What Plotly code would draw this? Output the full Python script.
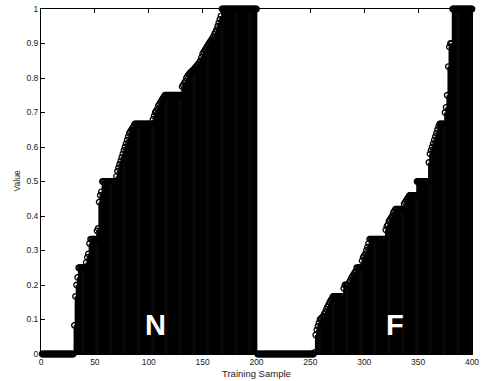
import plotly.graph_objects as go

# Sample indices
samples = list(range(1, 401))

# Values for samples 1..200 (class N)
values_n = [
    0, 0, 0, 0, 0, 0, 0, 0, 0, 0,
    0, 0, 0, 0, 0, 0, 0, 0, 0, 0,
    0, 0, 0, 0, 0, 0, 0, 0, 0, 0,
    0.083, 0.167, 0.2, 0.222, 0.25, 0.25, 0.25, 0.25, 0.25, 0.25,
    0.25, 0.265, 0.28, 0.29, 0.32, 0.333, 0.333, 0.333, 0.333, 0.333,
    0.333, 0.357, 0.364, 0.44, 0.46, 0.47, 0.5, 0.5, 0.5, 0.5,
    0.5, 0.5, 0.5, 0.5, 0.5, 0.5, 0.5, 0.5, 0.5, 0.515,
    0.53, 0.54, 0.55, 0.56, 0.57, 0.58, 0.59, 0.6, 0.61, 0.62,
    0.63, 0.64, 0.645, 0.65, 0.655, 0.66, 0.667, 0.667, 0.667, 0.667,
    0.667, 0.667, 0.667, 0.667, 0.667, 0.667, 0.667, 0.667, 0.667, 0.667,
    0.667, 0.667, 0.667, 0.68, 0.69, 0.7, 0.705, 0.71, 0.72, 0.725,
    0.73, 0.735, 0.74, 0.745, 0.75, 0.75, 0.75, 0.75, 0.75, 0.75,
    0.75, 0.75, 0.75, 0.75, 0.75, 0.75, 0.75, 0.75, 0.75, 0.75,
    0.775, 0.78, 0.785, 0.79, 0.8, 0.805, 0.81, 0.813, 0.817, 0.82,
    0.823, 0.826, 0.83, 0.833, 0.837, 0.84, 0.845, 0.85, 0.86, 0.87,
    0.875, 0.88, 0.885, 0.89, 0.895, 0.9, 0.905, 0.91, 0.915, 0.92,
    0.927, 0.933, 0.94, 0.95, 0.96, 0.97, 0.98, 1, 1, 1,
    1, 1, 1, 1, 1, 1, 1, 1, 1, 1,
    1, 1, 1, 1, 1, 1, 1, 1, 1, 1,
    1, 1, 1, 1, 1, 1, 1, 1, 1, 1,
]

# Values for samples 201..400 (class F)
values_f = [
    0, 0, 0, 0, 0, 0, 0, 0, 0, 0,
    0, 0, 0, 0, 0, 0, 0, 0, 0, 0,
    0, 0, 0, 0, 0, 0, 0, 0, 0, 0,
    0, 0, 0, 0, 0, 0, 0, 0, 0, 0,
    0, 0, 0, 0, 0, 0, 0, 0, 0, 0,
    0, 0, 0, 0.005, 0.055, 0.07, 0.08, 0.09, 0.1, 0.103,
    0.107, 0.11, 0.117, 0.123, 0.13, 0.137, 0.143, 0.15, 0.155, 0.16,
    0.167, 0.167, 0.167, 0.167, 0.167, 0.167, 0.167, 0.167, 0.167, 0.167,
    0.19, 0.2, 0.2, 0.2, 0.2, 0.207, 0.213, 0.22, 0.225, 0.23,
    0.235, 0.24, 0.25, 0.25, 0.25, 0.25, 0.25, 0.27, 0.28, 0.285,
    0.29, 0.3, 0.31, 0.32, 0.333, 0.333, 0.333, 0.333, 0.333, 0.333,
    0.333, 0.333, 0.333, 0.333, 0.333, 0.333, 0.333, 0.333, 0.333, 0.36,
    0.37, 0.375, 0.385, 0.39, 0.395, 0.4, 0.41, 0.415, 0.42, 0.42,
    0.42, 0.42, 0.42, 0.42, 0.42, 0.42, 0.435, 0.44, 0.445, 0.45,
    0.455, 0.46, 0.46, 0.46, 0.46, 0.46, 0.46, 0.46, 0.5, 0.5,
    0.5, 0.5, 0.5, 0.5, 0.5, 0.5, 0.5, 0.5, 0.5, 0.555,
    0.58, 0.59, 0.6, 0.61, 0.62, 0.63, 0.64, 0.65, 0.66, 0.667,
    0.667, 0.667, 0.667, 0.667, 0.7, 0.715, 0.75, 0.833, 0.89, 0.9,
    0.9, 1, 1, 1, 1, 1, 1, 1, 1, 1,
    1, 1, 1, 1, 1, 1, 1, 1, 1, 1,
]

values = values_n + values_f

x_ticks = [0, 50, 100, 150, 200, 250, 300, 350, 400]
y_ticks = [0, 0.1, 0.2, 0.3, 0.4, 0.5, 0.6, 0.7, 0.8, 0.9, 1]
y_tick_text = ["0", "0.1", "0.2", "0.3", "0.4", "0.5", "0.6", "0.7", "0.8", "0.9", "1"]

class_labels = ["N", "F"]
class_label_x = [106.5, 328.5]
class_label_y = [0.085, 0.085]

# Build stems
stem_x, stem_y = [], []
for s, v in zip(samples, values):
    stem_x += [s, s, None]
    stem_y += [0, v, None]

fig = go.Figure()
fig.add_trace(go.Scatter(
    x=stem_x, y=stem_y, mode="lines",
    line=dict(color="black", width=1.7),
    hoverinfo="skip", showlegend=False,
))
fig.add_trace(go.Scatter(
    x=samples, y=values, mode="markers",
    marker=dict(symbol="circle-open", size=5.5, color="black", line=dict(width=1.3, color="black")),
    cliponaxis=False, showlegend=False,
))

for t, x, y in zip(class_labels, class_label_x, class_label_y):
    fig.add_annotation(x=x, y=y, xref="x", yref="y", text="<b>%s</b>" % t,
                       showarrow=False, font=dict(family="Liberation Sans, Arial", size=29, color="white"))

fig.add_annotation(x=0.5, y=0, xref="paper", yref="paper", yshift=-19, yanchor="middle",
                   text="Training Sample", showarrow=False,
                   font=dict(family="Liberation Sans, Arial", size=9.5, color="#222"))
fig.add_annotation(x=0, y=0.5, xref="paper", yref="paper", xshift=-25, xanchor="center",
                   text="Value", textangle=-90, showarrow=False,
                   font=dict(family="Liberation Sans, Arial", size=8.5, color="#222"))

axis_common = dict(
    showline=True, linecolor="black", linewidth=1, mirror="ticks",
    ticks="inside", ticklen=4, tickcolor="black", tickwidth=1,
    showgrid=False, zeroline=False, automargin=False,
    tickfont=dict(family="Liberation Sans, Arial", size=8.5, color="#222"),
)
fig.update_xaxes(range=[0, 400], tickvals=x_ticks, ticktext=[str(v) for v in x_ticks], **axis_common)
fig.update_yaxes(range=[0, 1], tickvals=y_ticks, ticktext=y_tick_text, **axis_common)

fig.update_layout(
    width=482, height=381,
    margin=dict(l=41, r=10, t=9, b=27),
    paper_bgcolor="white", plot_bgcolor="white",
)

fig.write_html("out.html", config={"displayModeBar": False},
               post_script="document.body.style.margin='0';document.body.style.padding='0';")
